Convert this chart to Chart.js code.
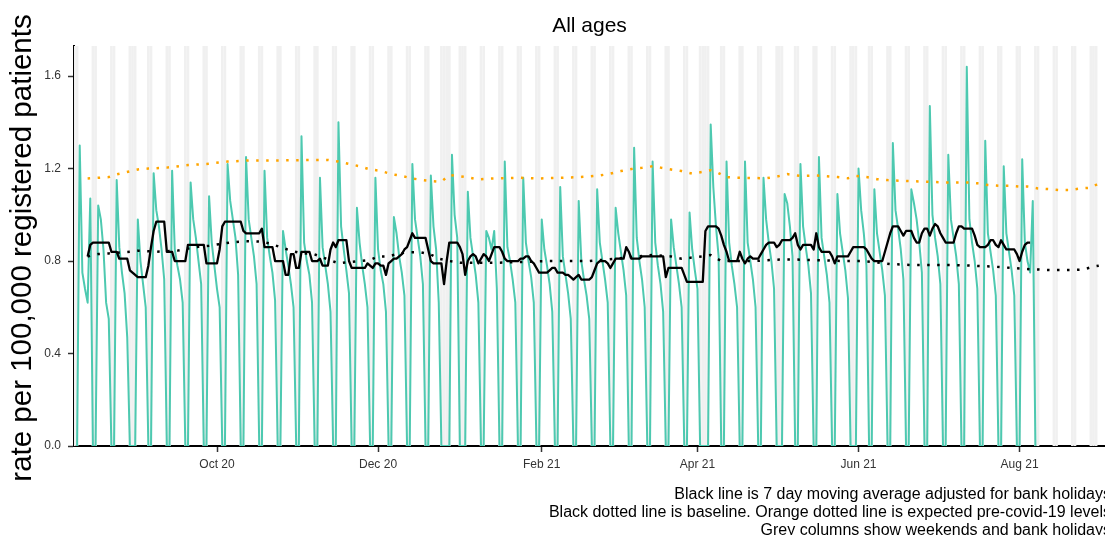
<!DOCTYPE html>
<html>
<head>
<meta charset="utf-8">
<script src="https://cdn.jsdelivr.net/npm/chart.js@4.4.0/dist/chart.umd.min.js"></script>
<style>
  html, body { margin: 0; padding: 0; background: #fff; }
  #wrap { width: 1105px; height: 535px; }
</style>
</head>
<body>
<div id="wrap"><canvas id="rateChart" width="1105" height="535"></canvas></div>
<script>
// daily rate, one row per week (Mon..Sun), weekends and bank holidays are 0
let dailyStart = '2020-08-09';
let dailyRate = [
  0,
  1.30, 0.75, 0.68, 0.62, 1.07, 0, 0,   // 10 Aug
  1.04, 0.98, 0.85, 0.62, 0.55, 0, 0,
  1.15, 0.86, 0.75, 0.66, 0.47, 0, 0,
  0, 0.98, 0.80, 0.70, 0.60, 0, 0,      // 31 Aug
  1.18, 1.02, 0.95, 0.85, 0.72, 0, 0,
  1.19, 0.85, 0.78, 0.72, 0.62, 0, 0,
  1.14, 0.98, 0.90, 0.80, 0.70, 0, 0,
  1.08, 0.88, 0.78, 0.68, 0.60, 0, 0,   // 28 Sep
  1.22, 1.06, 0.98, 0.90, 0.74, 0, 0,
  1.25, 0.98, 0.90, 0.82, 0.70, 0, 0,
  1.19, 0.90, 0.82, 0.75, 0.63, 0, 0,
  0.93, 0.85, 0.78, 0.70, 0.60, 0, 0,   // 26 Oct
  1.34, 0.88, 0.80, 0.74, 0.62, 0, 0,
  1.16, 0.86, 0.78, 0.70, 0.58, 0, 0,
  1.40, 0.95, 0.85, 0.76, 0.66, 0, 0,
  1.03, 0.88, 0.78, 0.70, 0.60, 0, 0,   // 23 Nov
  1.16, 0.85, 0.76, 0.70, 0.58, 0, 0,
  0.99, 0.92, 0.82, 0.75, 0.65, 0, 0,
  1.22, 0.98, 0.90, 0.82, 0.70, 0, 0,
  1.17, 0.95, 0.85, 0.62, 0, 0, 0,      // 21 Dec
  0, 1.26, 1.00, 0.90, 0, 0, 0,
  1.10, 0.90, 0.82, 0.74, 0.62, 0, 0,
  0.93, 0.90, 0.85, 0.93, 0.68, 0, 0,
  1.23, 0.86, 0.80, 0.72, 0.62, 0, 0,   // 18 Jan
  1.16, 0.88, 0.80, 0.73, 0.62, 0, 0,
  0.98, 0.85, 0.78, 0.70, 0.58, 0, 0,
  1.12, 0.82, 0.74, 0.66, 0.55, 0, 0,
  1.06, 0.80, 0.72, 0.65, 0.55, 0, 0,   // 15 Feb
  1.11, 0.88, 0.80, 0.72, 0.62, 0, 0,
  1.03, 0.92, 0.84, 0.76, 0.65, 0, 0,
  1.29, 0.90, 0.80, 0.72, 0.60, 0, 0,
  1.23, 0.88, 0.78, 0.70, 0.58, 0, 0,   // 15 Mar
  0.98, 0.86, 0.78, 0.70, 0.60, 0, 0,
  1.01, 0.85, 0.76, 0.68, 0, 0, 0,
  0, 1.39, 1.12, 0.95, 0.82, 0, 0,
  1.23, 0.88, 0.78, 0.70, 0.60, 0, 0,   // 12 Apr
  1.23, 0.88, 0.80, 0.72, 0.60, 0, 0,
  1.16, 0.98, 0.88, 0.80, 0.68, 0, 0,
  0, 1.09, 1.05, 0.95, 0.82, 0, 0,
  1.22, 0.95, 0.86, 0.78, 0.66, 0, 0,   // 10 May
  1.25, 0.90, 0.82, 0.74, 0.62, 0, 0,
  1.09, 0.92, 0.84, 0.76, 0.64, 0, 0,
  0, 1.20, 1.02, 0.92, 0.78, 0, 0,
  1.11, 0.92, 0.84, 0.76, 0.65, 0, 0,   // 7 Jun
  1.31, 1.02, 0.94, 0.85, 0.72, 0, 0,
  1.11, 1.05, 0.98, 0.88, 0.75, 0, 0,
  1.47, 1.00, 0.90, 0.82, 0.70, 0, 0,
  1.26, 0.98, 0.90, 0.82, 0.70, 0, 0,   // 5 Jul
  1.64, 0.98, 0.88, 0.80, 0.68, 0, 0,
  1.32, 0.92, 0.84, 0.76, 0.65, 0, 0,
  1.21, 0.92, 0.84, 0.76, 0.65, 0, 0,
  1.24, 0.88, 0.80, 0.75, 1.06, 0       // 2 Aug
];

// 7 day moving average, one row per month
let avgStart = '2020-08-13';
let movingAvg = [
  0.82,0.87,0.88,0.88,0.88,0.88,0.88,0.88,0.88,0.84,0.84,0.84,0.81,0.81,0.81,0.81,0.76,0.75,0.74,
  0.73,0.73,0.73,0.73,0.78,0.86,0.93,0.97,0.97,0.97,0.97,0.84,0.84,0.84,0.80,0.80,0.80,0.80,0.80,0.87,0.87,0.87,0.87,0.87,0.87,0.87,0.79,0.79,0.79,0.79,
  0.79,0.85,0.95,0.97,0.97,0.97,0.97,0.97,0.97,0.97,0.93,0.92,0.92,0.92,0.92,0.92,0.92,0.94,0.86,0.86,0.86,0.86,0.80,0.80,0.80,0.80,0.74,0.74,0.83,0.83,0.77,
  0.77,0.84,0.84,0.84,0.84,0.80,0.80,0.80,0.81,0.78,0.78,0.78,0.85,0.88,0.86,0.89,0.89,0.89,0.89,0.80,0.77,0.77,0.77,0.77,0.77,0.77,0.79,0.78,0.77,0.79,
  0.79,0.78,0.78,0.74,0.79,0.80,0.81,0.81,0.82,0.83,0.85,0.86,0.89,0.92,0.90,0.90,0.90,0.90,0.90,0.85,0.80,0.79,0.79,0.79,0.79,0.70,0.80,0.88,0.88,0.88,0.88,
  0.86,0.83,0.74,0.80,0.82,0.83,0.82,0.79,0.81,0.83,0.82,0.80,0.83,0.86,0.86,0.86,0.84,0.81,0.80,0.80,0.80,0.80,0.80,0.81,0.81,0.82,0.82,0.80,0.79,0.77,0.75,
  0.75,0.75,0.75,0.76,0.77,0.77,0.75,0.75,0.75,0.74,0.74,0.73,0.72,0.73,0.74,0.72,0.72,0.72,0.72,0.73,0.76,0.79,0.80,0.80,0.80,0.79,0.77,0.79,
  0.81,0.81,0.81,0.81,0.86,0.84,0.81,0.81,0.81,0.81,0.82,0.82,0.82,0.82,0.82,0.82,0.82,0.82,0.82,0.73,0.77,0.77,0.77,0.77,0.77,0.77,0.74,0.71,0.71,0.71,0.71,
  0.71,0.71,0.71,0.93,0.95,0.95,0.95,0.95,0.94,0.91,0.87,0.84,0.80,0.80,0.80,0.80,0.84,0.81,0.79,0.81,0.82,0.81,0.81,0.81,0.83,0.85,0.87,0.88,0.88,0.88,
  0.86,0.87,0.89,0.89,0.89,0.89,0.90,0.92,0.87,0.85,0.87,0.87,0.87,0.87,0.85,0.92,0.86,0.84,0.84,0.84,0.84,0.82,0.79,0.82,0.82,0.82,0.82,0.82,0.84,0.86,0.86,
  0.86,0.86,0.86,0.85,0.83,0.81,0.80,0.80,0.80,0.80,0.84,0.88,0.92,0.95,0.95,0.95,0.93,0.91,0.93,0.93,0.93,0.90,0.88,0.88,0.92,0.94,0.94,0.91,0.94,0.96,
  0.95,0.92,0.90,0.88,0.88,0.88,0.88,0.92,0.95,0.95,0.94,0.94,0.94,0.94,0.91,0.87,0.86,0.86,0.86,0.87,0.89,0.89,0.87,0.86,0.89,0.87,0.85,0.85,0.85,0.85,0.83,
  0.80,0.84,0.87,0.88,0.88
];

// baseline (black dotted)
let baselineDates = ['2020-08-13','2020-08-17','2020-08-21','2020-08-29','2020-09-01','2020-09-08','2020-09-16','2020-09-24','2020-09-28','2020-10-06','2020-10-12','2020-10-17','2020-10-21','2020-10-25','2020-10-29','2020-11-02','2020-11-06','2020-11-16','2020-11-24','2020-11-28','2020-12-01','2020-12-05','2020-12-09','2020-12-13','2020-12-17','2020-12-21','2020-12-24','2020-12-28','2021-01-01','2021-01-16','2021-01-27','2021-02-04','2021-02-19','2021-02-26','2021-03-15','2021-03-22','2021-03-26','2021-04-03','2021-04-06','2021-04-10','2021-04-22','2021-05-03','2021-05-07','2021-05-26','2021-06-02','2021-06-09','2021-06-13','2021-06-21','2021-07-06','2021-07-14','2021-07-22','2021-07-29','2021-08-06','2021-08-13','2021-08-21','2021-08-25','2021-08-29','2021-08-31'];
let baselineRate = [0.82,0.83,0.833,0.84,0.845,0.84,0.845,0.862,0.866,0.88,0.886,0.884,0.876,0.86,0.845,0.833,0.833,0.79,0.80,0.805,0.82,0.82,0.833,0.838,0.838,0.828,0.81,0.80,0.793,0.793,0.797,0.80,0.80,0.807,0.826,0.82,0.81,0.82,0.826,0.80,0.80,0.807,0.807,0.80,0.80,0.793,0.787,0.783,0.783,0.78,0.776,0.77,0.764,0.761,0.761,0.763,0.776,0.78];

// expected pre-covid-19 level (orange dotted)
let expectedDates = ['2020-08-13','2020-08-21','2020-08-24','2020-09-01','2020-09-05','2020-09-12','2020-09-20','2020-09-27','2020-10-05','2020-10-13','2020-10-25','2020-11-05','2020-11-12','2020-11-16','2020-11-20','2020-11-24','2020-11-28','2020-12-02','2020-12-06','2020-12-10','2020-12-14','2020-12-18','2020-12-21','2020-12-25','2020-12-28','2020-12-31','2021-01-04','2021-01-08','2021-01-12','2021-01-24','2021-01-31','2021-02-08','2021-02-15','2021-02-19','2021-02-23','2021-02-27','2021-03-03','2021-03-07','2021-03-11','2021-03-15','2021-03-18','2021-03-22','2021-03-26','2021-03-30','2021-04-03','2021-04-06','2021-04-08','2021-04-12','2021-04-16','2021-04-27','2021-05-01','2021-05-05','2021-05-10','2021-05-16','2021-05-24','2021-05-28','2021-05-31','2021-06-04','2021-06-08','2021-06-12','2021-06-19','2021-06-27','2021-07-04','2021-07-13','2021-07-16','2021-07-20','2021-07-24','2021-07-28','2021-08-01','2021-08-04','2021-08-08','2021-08-12','2021-08-16','2021-08-20','2021-08-24','2021-08-28','2021-08-31'];
let expectedRate = [1.157,1.163,1.175,1.196,1.20,1.204,1.215,1.22,1.23,1.235,1.235,1.237,1.237,1.23,1.22,1.21,1.196,1.19,1.176,1.168,1.157,1.15,1.146,1.143,1.172,1.168,1.162,1.153,1.157,1.16,1.157,1.16,1.163,1.166,1.17,1.178,1.189,1.198,1.203,1.21,1.204,1.196,1.189,1.178,1.186,1.193,1.186,1.163,1.16,1.158,1.165,1.176,1.168,1.17,1.163,1.158,1.168,1.163,1.154,1.15,1.146,1.143,1.14,1.14,1.136,1.129,1.126,1.126,1.122,1.122,1.114,1.111,1.107,1.107,1.114,1.117,1.136];

let bankHolidays = ['2020-08-31','2020-12-25','2020-12-28','2021-01-01','2021-04-02','2021-04-05','2021-05-03','2021-05-31','2021-08-30'];

let tickDates = ['2020-10-01','2020-12-01','2021-02-01','2021-04-01','2021-06-01','2021-08-01'];
let tickLabels = ['Oct 20','Dec 20','Feb 21','Apr 21','Jun 21','Aug 21'];
let yTicks = [0, 0.4, 0.8, 1.2, 1.6];
let xRange = ['2020-08-07T20:00:00Z', '2021-09-02T08:40:00Z'];

let captionLines = [
  'Black line is 7 day moving average adjusted for bank holidays',
  'Black dotted line is baseline. Orange dotted line is expected pre-covid-19 levels',
  'Grey columns show weekends and bank holidays'
];

const DAY = 86400000;
function dayOf(s)
{
  return Date.parse(s) / DAY;
}

function seriesFrom(start, values)
{
  let d0 = dayOf(start);
  return values.map((v, i) => ({x: d0 + i, y: v}));
}

function pairs(dates, values)
{
  return dates.map((d, i) => ({x: dayOf(d), y: values[i]}));
}

const FONT = '"Liberation Sans", Arial, sans-serif';
Chart.defaults.font.family = FONT;

// grey columns behind the lines
let holidaySet = new Set(bankHolidays.map(dayOf));
let greyColumns = {
  id: 'greyColumns',
  beforeDatasetsDraw(chart)
  {
    let ctx = chart.ctx, area = chart.chartArea, x = chart.scales.x;
    ctx.save();
    ctx.beginPath();
    ctx.rect(area.left, area.top, area.right - area.left, area.bottom - area.top);
    ctx.clip();
    ctx.fillStyle = '#f0f0f0';
    for (let d = Math.floor(x.min); d <= Math.ceil(x.max); d++)
    {
      let wd = new Date(d * DAY).getUTCDay();
      if (wd == 0 || wd == 6 || holidaySet.has(d))
      {
        let x0 = x.getPixelForValue(d - 0.5);
        let x1 = x.getPixelForValue(d + 0.5);
        ctx.fillRect(x0, area.top, x1 - x0, area.bottom - area.top);
      }
    }
    ctx.restore();
  }
};

// title, axis title and caption
let labels = {
  id: 'labels',
  afterDraw(chart)
  {
    let ctx = chart.ctx, area = chart.chartArea;
    ctx.save();
    ctx.fillStyle = '#000';
    ctx.textAlign = 'center';
    ctx.textBaseline = 'alphabetic';
    ctx.font = '21px ' + FONT;
    ctx.fillText('All ages', (area.left + area.right) / 2, 32);

    ctx.save();
    ctx.translate(31, 248);
    ctx.rotate(-Math.PI / 2);
    ctx.font = '29.5px ' + FONT;
    ctx.fillText('rate per 100,000 registered patients', 0, 0);
    ctx.restore();

    ctx.textAlign = 'right';
    ctx.font = '16px ' + FONT;
    for (let i = 0; i < captionLines.length; i++)
    {
      ctx.fillText(captionLines[i], 1111, 499 + i * 18);
    }
    ctx.restore();
  }
};

let ctx = document.getElementById('rateChart').getContext('2d');
let rateChart = new Chart(ctx, {
  type: 'line',
  data: {
    datasets: [
      {label: 'moving average', data: seriesFrom(avgStart, movingAvg), borderColor: '#000', borderWidth: 2.3, order: 0},
      {label: 'baseline', data: pairs(baselineDates, baselineRate), borderColor: '#000', borderWidth: 2.5, borderDash: [2.5, 7.5], order: 1},
      {label: 'expected', data: pairs(expectedDates, expectedRate), borderColor: '#ffa500', borderWidth: 2.5, borderDash: [2.5, 7.5], order: 2},
      {label: 'rate', data: seriesFrom(dailyStart, dailyRate), borderColor: '#4dc9b0', borderWidth: 2, order: 3}
    ]
  },
  options: {
    responsive: false,
    animation: false,
    devicePixelRatio: 1,
    elements: {
      point: {radius: 0},
      line: {tension: 0, borderJoinStyle: 'round'}
    },
    layout: {padding: {top: 46, right: 0, bottom: 0, left: 0}},
    plugins: {
      legend: {display: false},
      tooltip: {enabled: false}
    },
    scales: {
      x: {
        type: 'linear',
        min: dayOf(xRange[0]),
        max: dayOf(xRange[1]),
        afterFit: s => { s.height = 89; },
        afterBuildTicks: s => { s.ticks = tickDates.map(d => ({value: dayOf(d)})); },
        grid: {drawOnChartArea: false, drawTicks: true, tickLength: 6, tickColor: '#333', tickWidth: 1.5},
        border: {display: true, color: '#000', width: 2},
        ticks: {
          autoSkip: false,
          maxRotation: 0,
          padding: 5,
          color: '#333',
          font: {size: 12},
          callback: (v, i) => tickLabels[i]
        }
      },
      y: {
        type: 'linear',
        min: 0,
        max: 1.73,
        afterFit: s => { s.width = 74; },
        afterBuildTicks: s => { s.ticks = yTicks.map(v => ({value: v})); },
        grid: {drawOnChartArea: false, drawTicks: true, tickLength: 6, tickColor: '#333', tickWidth: 1.5},
        border: {display: true, color: '#000', width: 2},
        ticks: {
          padding: 7,
          color: '#333',
          font: {size: 12},
          callback: v => v.toFixed(1)
        }
      }
    }
  },
  plugins: [greyColumns, labels]
});
</script>
</body>
</html>
